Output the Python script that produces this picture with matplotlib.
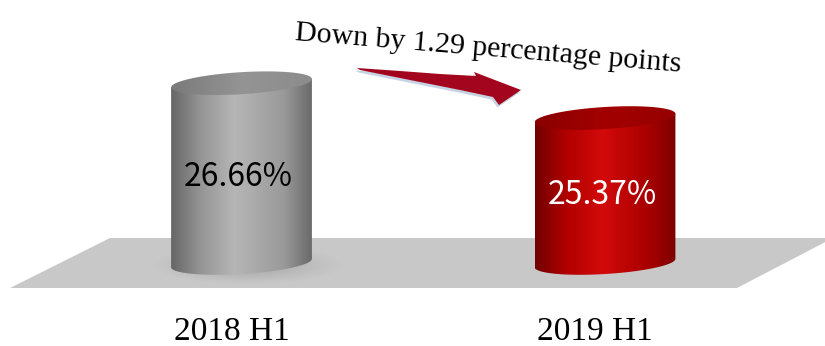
import numpy as np
import matplotlib.pyplot as plt
from matplotlib.patches import Polygon
from matplotlib.colors import LinearSegmentedColormap

# data
categories = ['2018 H1', '2019 H1']
rates = [26.66, 25.37]
rate_labels = ['26.66%', '25.37%']
change_note = 'Down by 1.29 percentage points'
baseline = 20.0

W, H = 825, 346
fig = plt.figure(figsize=(W / 100, H / 100), dpi=100)
ax = fig.add_axes([0, 0, 1, 1])
ax.set_xlim(-0.6644, 1.6052)
ax.set_ylim(16.926, 29.741)
ax.axis('off')


def to_px(x, y):
    # data -> pixel (origin top-left)
    dx, dy = ax.transData.transform((x, y))
    return dx, H - dy


def from_px(pts):
    pts = np.asarray(pts, dtype=float)
    disp = np.column_stack([pts[:, 0], H - pts[:, 1]])
    return ax.transData.inverted().transform(disp)


def add_poly(pts, **kw):
    p = Polygon(from_px(pts), closed=True, **kw)
    ax.add_patch(p)
    return p


def add_gradient(patch, pts, colors, stops, zorder):
    pts = np.asarray(pts)
    x0, x1 = pts[:, 0].min(), pts[:, 0].max()
    y0, y1 = pts[:, 1].min(), pts[:, 1].max()
    (dx0, dy0), (dx1, dy1) = from_px([(x0, y1), (x1, y0)])
    cmap = LinearSegmentedColormap.from_list('g', list(zip(stops, colors)))
    grad = np.linspace(0, 1, 256)[None, :]
    im = ax.imshow(grad, extent=[dx0, dx1, dy0, dy1], cmap=cmap, aspect='auto',
                   interpolation='bilinear', zorder=zorder)
    im.set_clip_path(patch)


# floor
add_poly([(110, 238), (833, 238), (737, 288), (10, 288)],
         facecolor='#c8c8c8', edgecolor='none', zorder=1)

bar_width = 0.388
tilt = np.deg2rad(3.5)
eb = 11.0  # half-height of the ellipses in px


def ellipse_pts(cx, cy, a, t):
    x = a * np.cos(t) * np.cos(tilt) - eb * np.sin(t) * np.sin(tilt)
    y = a * np.cos(t) * np.sin(tilt) + eb * np.sin(t) * np.cos(tilt)
    return np.column_stack([cx + x, cy - y])


def soft_shadow(cx, cy, a):
    xs = np.linspace(cx - a - 30, cx + a + 30, 200)
    ys = np.linspace(cy - 25, cy + 25, 60)
    gx, gy = np.meshgrid(xs, ys)
    r = np.sqrt(((gx - cx) / (a + 6)) ** 2 + ((gy - cy) / (eb + 5)) ** 2)
    alpha = 0.35 * np.clip(1.25 - r, 0, 1) ** 1.2
    rgba = np.zeros(gx.shape + (4,))
    rgba[..., :3] = 0.45
    rgba[..., 3] = np.clip(alpha, 0, 1)
    (dx0, dy0), (dx1, dy1) = from_px([(xs[0], ys[-1]), (xs[-1], ys[0])])
    ax.imshow(rgba, extent=[dx0, dx1, dy0, dy1], aspect='auto',
              interpolation='bilinear', zorder=2, origin='upper')


body_styles = [
    (['#666666', '#939393', '#b6b6b6', '#9a9a9a', '#6a6a6a'], [0, 0.2, 0.45, 0.8, 1]),
    (['#720000', '#b00000', '#d30a0a', '#a80000', '#7e0000'], [0, 0.22, 0.48, 0.8, 1]),
]
top_styles = [
    (['#7a7a7a', '#949494', '#8c8c8c'], [0, 0.5, 1]),
    (['#8a0000', '#a30000', '#960000'], [0, 0.5, 1]),
]
text_colors = ['black', 'white']
shadow_on = [True, False]

for i, v in enumerate(rates):
    cx, top_y = to_px(i, v)
    _, base_y = to_px(i, baseline)
    a = (to_px(i + bar_width / 2, v)[0] - to_px(i - bar_width / 2, v)[0]) / 2

    if shadow_on[i]:
        soft_shadow(cx + 6, base_y + 2, a)

    t_low = np.linspace(np.pi, 2 * np.pi, 80)
    bottom = ellipse_pts(cx, base_y, a, t_low)
    top_l = ellipse_pts(cx, top_y, a, np.array([np.pi]))
    top_r = ellipse_pts(cx, top_y, a, np.array([0.0]))
    body = np.vstack([top_l, bottom, top_r])
    bp = add_poly(body, facecolor='none', edgecolor='none', zorder=3)
    add_gradient(bp, body, *body_styles[i], zorder=3)

    cap = ellipse_pts(cx, top_y, a, np.linspace(0, 2 * np.pi, 120))
    tp = add_poly(cap, facecolor='none', edgecolor='none', zorder=4)
    add_gradient(tp, cap, *top_styles[i], zorder=4)

    mid_y = (top_y + base_y) / 2 + 4
    lx, ly = from_px([(cx - 3, mid_y)])[0]
    ax.text(lx, ly, rate_labels[i], ha='center', va='center', fontsize=23,
            color=text_colors[i], family=['Noto Sans CJK SC', 'DejaVu Sans'], zorder=6)

    # category label under the floor
    nx, ny = from_px([(cx - 10, 332)])[0]
    ax.text(nx, ny, categories[i], ha='center', va='center', fontsize=24,
            family='Liberation Serif', color='black', zorder=6)

# curved arrow between the two cylinders
arrow = [(357, 68), (400, 71), (440, 74), (476, 76), (474, 72), (521, 90),
         (499, 105), (493, 97), (460, 90), (420, 82), (385, 75), (360, 70)]
shadow = [(x - 1.5, y + 2.5) for x, y in arrow]
add_poly(shadow, facecolor='#c6d3e2', edgecolor='none', zorder=5)
add_poly(arrow, facecolor='#a3051f', edgecolor='none', zorder=5)

tx, ty = from_px([(488, 56)])[0]
ax.text(tx, ty, change_note, ha='center', va='baseline', rotation=-4.7,
        rotation_mode='anchor', fontsize=21.5, family='Liberation Serif',
        color='black', zorder=6)

ax.set_xlim(-0.6644, 1.6052)
ax.set_ylim(16.926, 29.741)
fig.savefig('out.png', dpi=100, facecolor='white')
